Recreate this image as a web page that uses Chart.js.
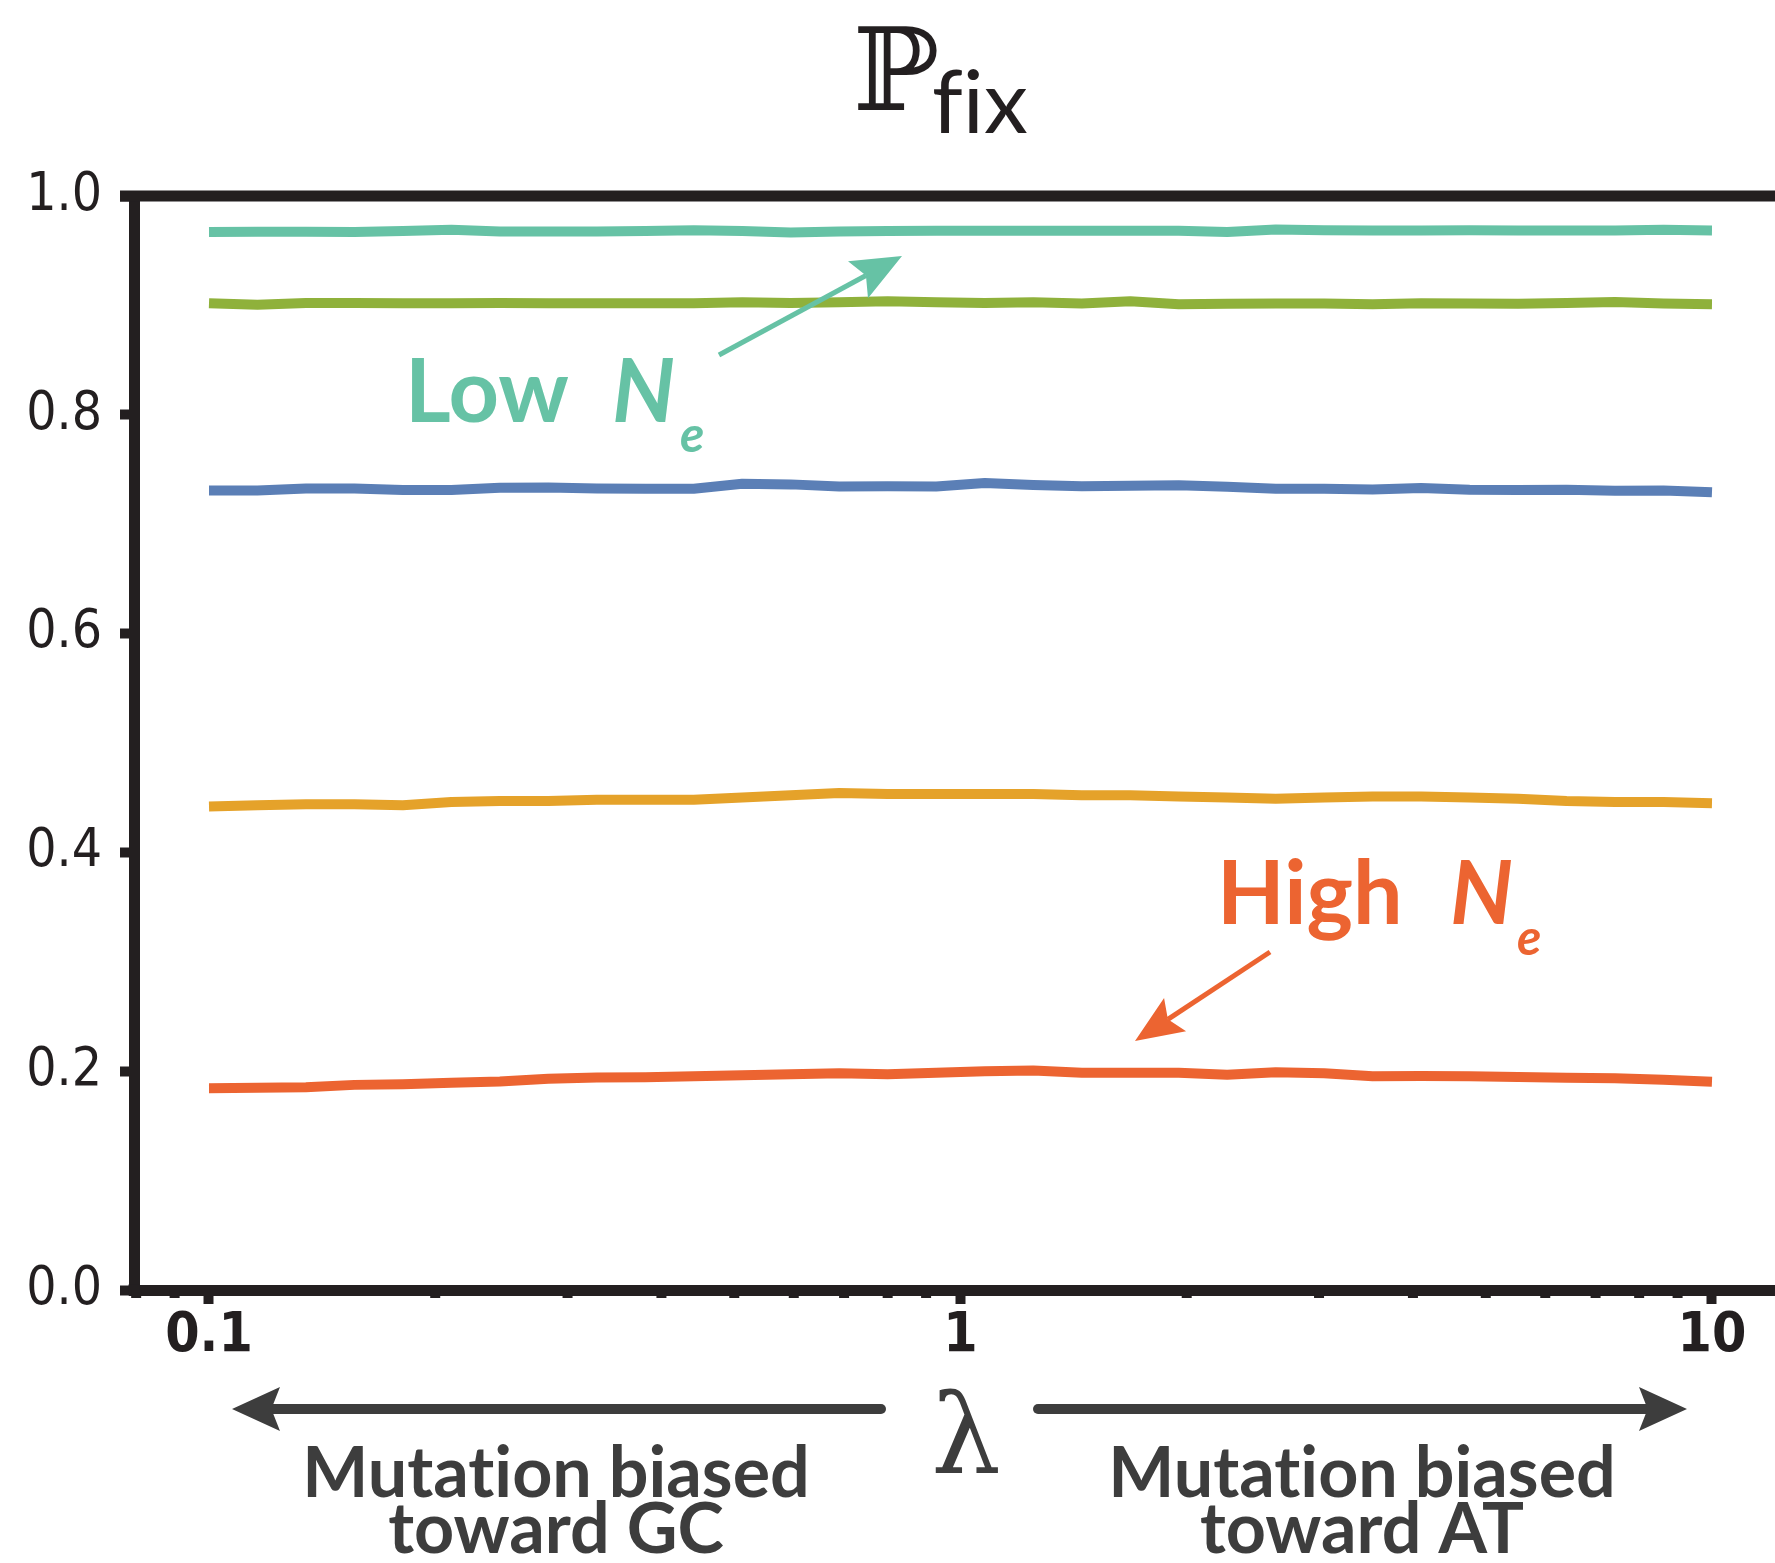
<!DOCTYPE html>
<html lang="en">
<head>
<meta charset="UTF-8" />
<title>P fix vs lambda</title>
<script src="https://cdn.jsdelivr.net/npm/chart.js"></script>
<style>
  html, body { margin: 0; padding: 0; background: #fff; }
  canvas { display: block; }
</style>
</head>
<body>
<canvas id="chart" width="1775" height="1563"></canvas>
<script>
// lambda values (log-spaced, 0.1 .. 10)
const lambdas = [0.1, 0.11601, 0.13459, 0.15614, 0.18114, 0.21014, 0.2438, 0.28284,
  0.32813, 0.38067, 0.44163, 0.51234, 0.59439, 0.68957, 0.8, 0.92841,
  1.0771, 1.25, 1.4502, 1.6824, 1.9518, 2.2643, 2.6269, 3.0476,
  3.5355, 4.1017, 4.7587, 5.5207, 6.4046, 7.4302, 8.6199, 10];

// fixation probability, one array per population size
const pTeal = [0.9670, 0.9673, 0.9673, 0.9670, 0.9679, 0.9691, 0.9676, 0.9676,
  0.9676, 0.9679, 0.9688, 0.9679, 0.9667, 0.9676, 0.9679, 0.9682,
  0.9682, 0.9682, 0.9682, 0.9682, 0.9682, 0.9670, 0.9694, 0.9688,
  0.9685, 0.9685, 0.9688, 0.9685, 0.9685, 0.9685, 0.9691, 0.9685];
const pGreen = [0.9020, 0.9005, 0.9023, 0.9023, 0.9020, 0.9020, 0.9023, 0.9020,
  0.9020, 0.9020, 0.9020, 0.9029, 0.9023, 0.9029, 0.9038, 0.9029,
  0.9023, 0.9029, 0.9017, 0.9038, 0.9011, 0.9014, 0.9017, 0.9017,
  0.9011, 0.9020, 0.9017, 0.9014, 0.9023, 0.9032, 0.9017, 0.9011];
const pBlue = [0.7309, 0.7309, 0.7327, 0.7327, 0.7312, 0.7312, 0.7333, 0.7336,
  0.7327, 0.7324, 0.7324, 0.7370, 0.7364, 0.7345, 0.7348, 0.7345,
  0.7376, 0.7358, 0.7348, 0.7352, 0.7355, 0.7342, 0.7324, 0.7324,
  0.7318, 0.7330, 0.7315, 0.7312, 0.7315, 0.7306, 0.7309, 0.7291];
const pGold = [0.4419, 0.4430, 0.4439, 0.4439, 0.4430, 0.4460, 0.4470, 0.4470,
  0.4481, 0.4481, 0.4481, 0.4502, 0.4522, 0.4543, 0.4533, 0.4533,
  0.4533, 0.4533, 0.4522, 0.4522, 0.4512, 0.4502, 0.4491, 0.4502,
  0.4512, 0.4512, 0.4502, 0.4491, 0.4470, 0.4460, 0.4460, 0.4450];
const pRed = [0.1845, 0.1848, 0.1854, 0.1875, 0.1881, 0.1894, 0.1906, 0.1930,
  0.1942, 0.1945, 0.1954, 0.1964, 0.1973, 0.1982, 0.1973, 0.1985,
  0.2000, 0.2006, 0.1985, 0.1985, 0.1985, 0.1967, 0.1991, 0.1982,
  0.1954, 0.1957, 0.1954, 0.1948, 0.1939, 0.1936, 0.1921, 0.1903];

const xMajorTicks = [0.1, 1, 10];
const xMinorTicks = [0.08, 0.09, 0.2, 0.3, 0.4, 0.5, 0.6, 0.7, 0.8, 0.9,
  2, 3, 4, 5, 6, 7, 8, 9];
const yTicks = [0, 0.2, 0.4, 0.6, 0.8, 1.0];

const DARK = '#231f20';
const GREY = '#3d3d3d';
const TEAL = '#66c2a5';
const GREEN = '#8fb13b';
const BLUE = '#5b7fb6';
const GOLD = '#e5a22a';
const RED = '#ec6431';

const NARROW = '"Liberation Sans Narrow", "DejaVu Sans Condensed", "Roboto Condensed", sans-serif';
const SANS = 'Lato, "Open Sans", sans-serif';
const ZWNJ = '\u200C'; // keeps Lato from using fi / ti ligatures

function series(vals, color) {
  return {
    data: lambdas.map((x, i) => ({ x: x, y: vals[i] })),
    borderColor: color,
    borderWidth: 10,
    pointRadius: 0,
    tension: 0,
    borderCapStyle: 'butt',
    borderJoinStyle: 'round',
    fill: false
  };
}

function arrow(ctx, x1, y1, x2, y2, lw, headLen, headHalf, color, roundTail) {
  const dx = x2 - x1, dy = y2 - y1, len = Math.hypot(dx, dy);
  const ux = dx / len, uy = dy / len, nx = -uy, ny = ux;
  const bx = x2 - ux * headLen, by = y2 - uy * headLen;
  const kx = x2 - ux * headLen * 0.82, ky = y2 - uy * headLen * 0.82;
  ctx.strokeStyle = color;
  ctx.fillStyle = color;
  ctx.lineWidth = lw;
  ctx.lineCap = roundTail ? 'round' : 'butt';
  ctx.beginPath();
  ctx.moveTo(x1, y1);
  ctx.lineTo(kx, ky);
  ctx.stroke();
  ctx.beginPath();
  ctx.moveTo(x2, y2);
  ctx.lineTo(bx + nx * headHalf, by + ny * headHalf);
  ctx.lineTo(kx, ky);
  ctx.lineTo(bx - nx * headHalf, by - ny * headHalf);
  ctx.closePath();
  ctx.fill();
}

function text(ctx, s, x, y, font, color, align) {
  ctx.font = font;
  ctx.fillStyle = color;
  ctx.textAlign = align || 'left';
  ctx.textBaseline = 'alphabetic';
  ctx.fillText(s, x, y);
}

const overlay = {
  id: 'overlay',
  afterDraw(chart) {
    const { ctx, chartArea: a, scales: { x } } = chart;
    ctx.save();
    // frame top and corner
    ctx.fillStyle = DARK;
    ctx.fillRect(120, a.top - 5.5, a.right - 120, 11);
    ctx.fillRect(a.left - 5.5, a.bottom - 5.5, 11, 11);
    // minor x ticks
    xMinorTicks.forEach(v => {
      const px = x.getPixelForValue(v);
      ctx.fillRect(px - 5, a.bottom, 10, 8);
    });

    // title
    text(ctx, '\u2119', 853, 110, '115px "DejaVu Serif", serif', DARK);
    text(ctx, 'f' + ZWNJ + 'ix', 932, 133, '88px ' + SANS, DARK);

    // annotations
    text(ctx, 'Low', 405, 422, 'bold 88px ' + SANS, TEAL);
    text(ctx, 'N', 612, 422, 'italic bold 88px ' + SANS, TEAL);
    text(ctx, 'e', 680, 452, 'italic bold 50px ' + SANS, TEAL);
    arrow(ctx, 719, 355, 902, 256, 5, 50, 21, TEAL, false);

    text(ctx, 'High', 1217, 924, 'bold 88px ' + SANS, RED);
    text(ctx, 'N', 1450, 924, 'italic bold 88px ' + SANS, RED);
    text(ctx, 'e', 1517, 955, 'italic bold 50px ' + SANS, RED);
    arrow(ctx, 1270, 952, 1135, 1041, 5, 48, 20, RED, false);

    // axis caption
    arrow(ctx, 881, 1409, 232, 1409, 10, 48, 22, GREY, true);
    arrow(ctx, 1038, 1409, 1687, 1409, 10, 48, 22, GREY, true);
    text(ctx, '\u03bb', 966, 1473, '110px "DejaVu Serif", serif', GREY, 'center');
    const cap = 'bold 70px ' + SANS;
    const mut = 'Mutat' + ZWNJ + 'ion biased';
    text(ctx, mut, 556, 1497, cap, GREY, 'center');
    text(ctx, 'toward GC', 556, 1553, cap, GREY, 'center');
    text(ctx, mut, 1362, 1497, cap, GREY, 'center');
    text(ctx, 'toward AT', 1362, 1553, cap, GREY, 'center');
    ctx.restore();
  }
};

new Chart(document.getElementById('chart').getContext('2d'), {
  type: 'line',
  data: {
    datasets: [
      series(pTeal, TEAL),
      series(pGreen, GREEN),
      series(pBlue, BLUE),
      series(pGold, GOLD),
      series(pRed, RED)
    ]
  },
  options: {
    responsive: false,
    animation: false,
    devicePixelRatio: 1,
    layout: { padding: { top: 196, right: 0, left: 0, bottom: 0 } },
    plugins: { legend: { display: false }, tooltip: { enabled: false } },
    scales: {
      x: {
        type: 'logarithmic',
        position: 'bottom',
        min: 0.07947,
        max: 12.13,
        afterBuildTicks: s => { s.ticks = xMajorTicks.map(v => ({ value: v, major: true })); },
        afterFit: s => { s.height = 273; },
        ticks: {
          autoSkip: false,
          maxRotation: 0,
          padding: 5,
          color: DARK,
          font: { family: NARROW, size: 55, weight: 'bold', lineHeight: 1 },
          callback: v => String(v)
        },
        grid: { drawOnChartArea: false, drawTicks: true, tickLength: 14, tickWidth: 10, tickColor: DARK, color: DARK },
        border: { display: true, width: 11, color: DARK }
      },
      y: {
        type: 'linear',
        min: 0,
        max: 1,
        afterBuildTicks: s => { s.ticks = yTicks.map(v => ({ value: v })); },
        afterFit: s => { s.width = 134; },
        ticks: {
          padding: 18,
          color: DARK,
          font: { family: NARROW, size: 53, lineHeight: 1 },
          callback: v => v.toFixed(1)
        },
        grid: { drawOnChartArea: false, drawTicks: true, tickLength: 14, tickWidth: 10, tickColor: DARK, color: DARK },
        border: { display: true, width: 11, color: DARK }
      }
    }
  },
  plugins: [overlay]
});
</script>
</body>
</html>
